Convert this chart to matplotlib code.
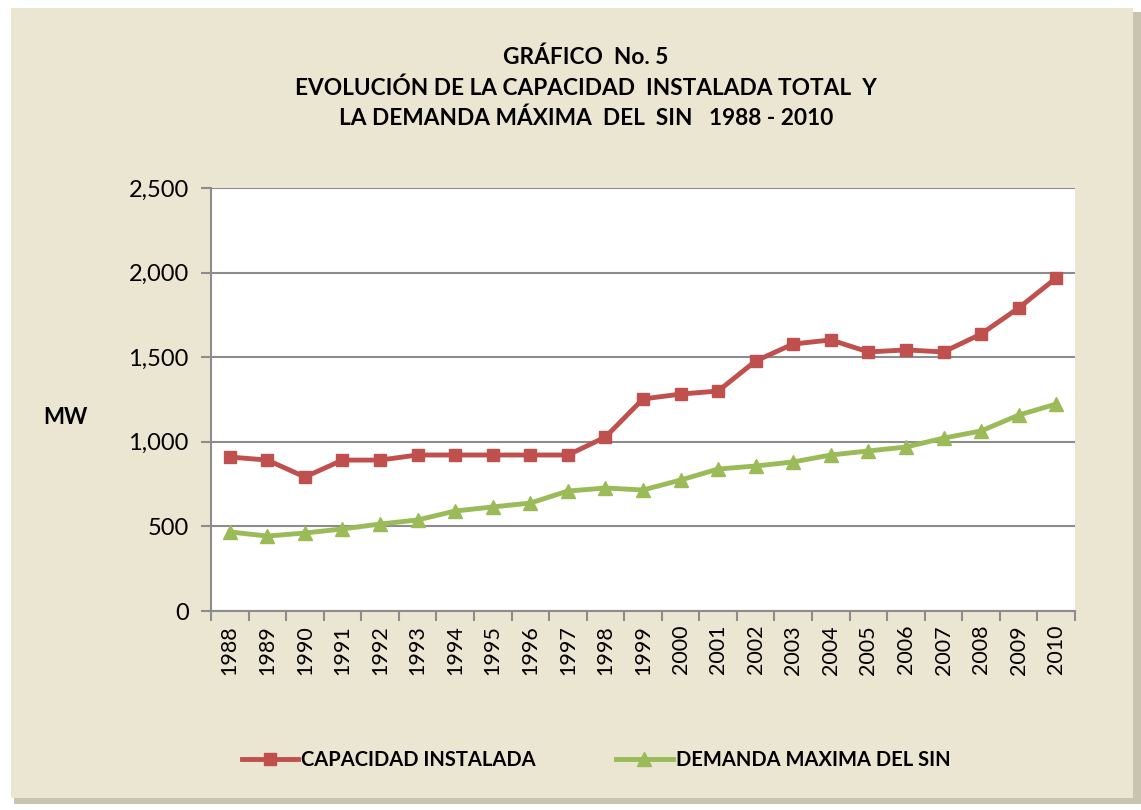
import matplotlib.pyplot as plt
import matplotlib.patches as patches
from matplotlib.ticker import FuncFormatter

years = list(range(1988, 2011))
capacidad = [910, 892, 792, 892, 892, 922, 922, 922, 922, 922, 1028, 1253,
             1282, 1300, 1478, 1578, 1602, 1531, 1543, 1531, 1637, 1791, 1968]
demanda = [467, 443, 461, 485, 514, 538, 591, 615, 638, 709, 727, 715,
           774, 839, 857, 881, 922, 946, 969, 1022, 1064, 1158, 1223]

plt.rcParams['font.family'] = ['Lato', 'DejaVu Sans']

red = '#C0504D'
green = '#9BBB59'
bg = '#EBE6D1'

fig = plt.figure(figsize=(11.41, 8.10), dpi=100)
fig.patch.set_facecolor('white')

# chart frame with shadow
fig.patches.append(patches.Rectangle((14 / 1141, 6 / 810), 1127 / 1141, 792 / 810,
                                     transform=fig.transFigure, facecolor='#C9C4B0',
                                     edgecolor='none', zorder=-2))
fig.patches.append(patches.Rectangle((11 / 1141, 12 / 810), 1122 / 1141, 790 / 810,
                                     transform=fig.transFigure, facecolor=bg,
                                     edgecolor='none', zorder=-1))

ax = fig.add_axes([211 / 1141, 199 / 810, 864 / 1141, 423 / 810])
ax.set_facecolor('white')

x = list(range(len(years)))
ax.plot(x, capacidad, color=red, lw=3.5, marker='s', ms=8, label='CAPACIDAD INSTALADA', zorder=3)
ax.plot(x, demanda, color=green, lw=3.5, marker='^', ms=10, label='DEMANDA MAXIMA DEL SIN', zorder=3)

ax.set_xlim(-0.5, len(years) - 0.5)
ax.set_ylim(0, 2500)
ax.set_yticks(range(0, 2501, 500))
ax.yaxis.set_major_formatter(FuncFormatter(lambda v, p: f'{int(v):,}'))
ax.grid(axis='y', color='#8C8C8C', lw=1.5)
ax.set_axisbelow(True)

ax.set_xticks(x)
ax.set_xticklabels([str(y) for y in years], rotation=90, fontsize=15.5)
ax.set_xticks([i - 0.5 for i in range(len(years) + 1)], minor=True)
ax.tick_params(axis='x', which='major', length=0, pad=10)
ax.tick_params(axis='x', which='minor', length=7, width=1.5, color='#8C8C8C')
ax.tick_params(axis='y', length=7, width=1.5, color='#8C8C8C', labelsize=17, pad=9)

for s in ['top', 'right']:
    ax.spines[s].set_visible(False)
for s in ['left', 'bottom']:
    ax.spines[s].set_color('#8C8C8C')
    ax.spines[s].set_linewidth(1.5)

fig.text(65 / 1141, 1 - 418 / 810, 'MW', fontsize=16, fontweight='bold', ha='center', va='center')

fig.text(586 / 1141, 1 - 88 / 810,
         'GRÁFICO  No. 5\nEVOLUCIÓN DE LA CAPACIDAD  INSTALADA TOTAL  Y\nLA DEMANDA MÁXIMA  DEL  SIN   1988 - 2010',
         fontsize=16.3, fontweight='bold', ha='center', va='center', linespacing=1.5)

leg = fig.legend(loc='center', bbox_to_anchor=(596 / 1141, 1 - 760 / 810), ncol=2,
                 frameon=False, prop={'weight': 'bold', 'size': 14.5},
                 handlelength=2.8, handletextpad=0.15, columnspacing=4)

fig.savefig('out.png', dpi=100, facecolor=fig.get_facecolor())
